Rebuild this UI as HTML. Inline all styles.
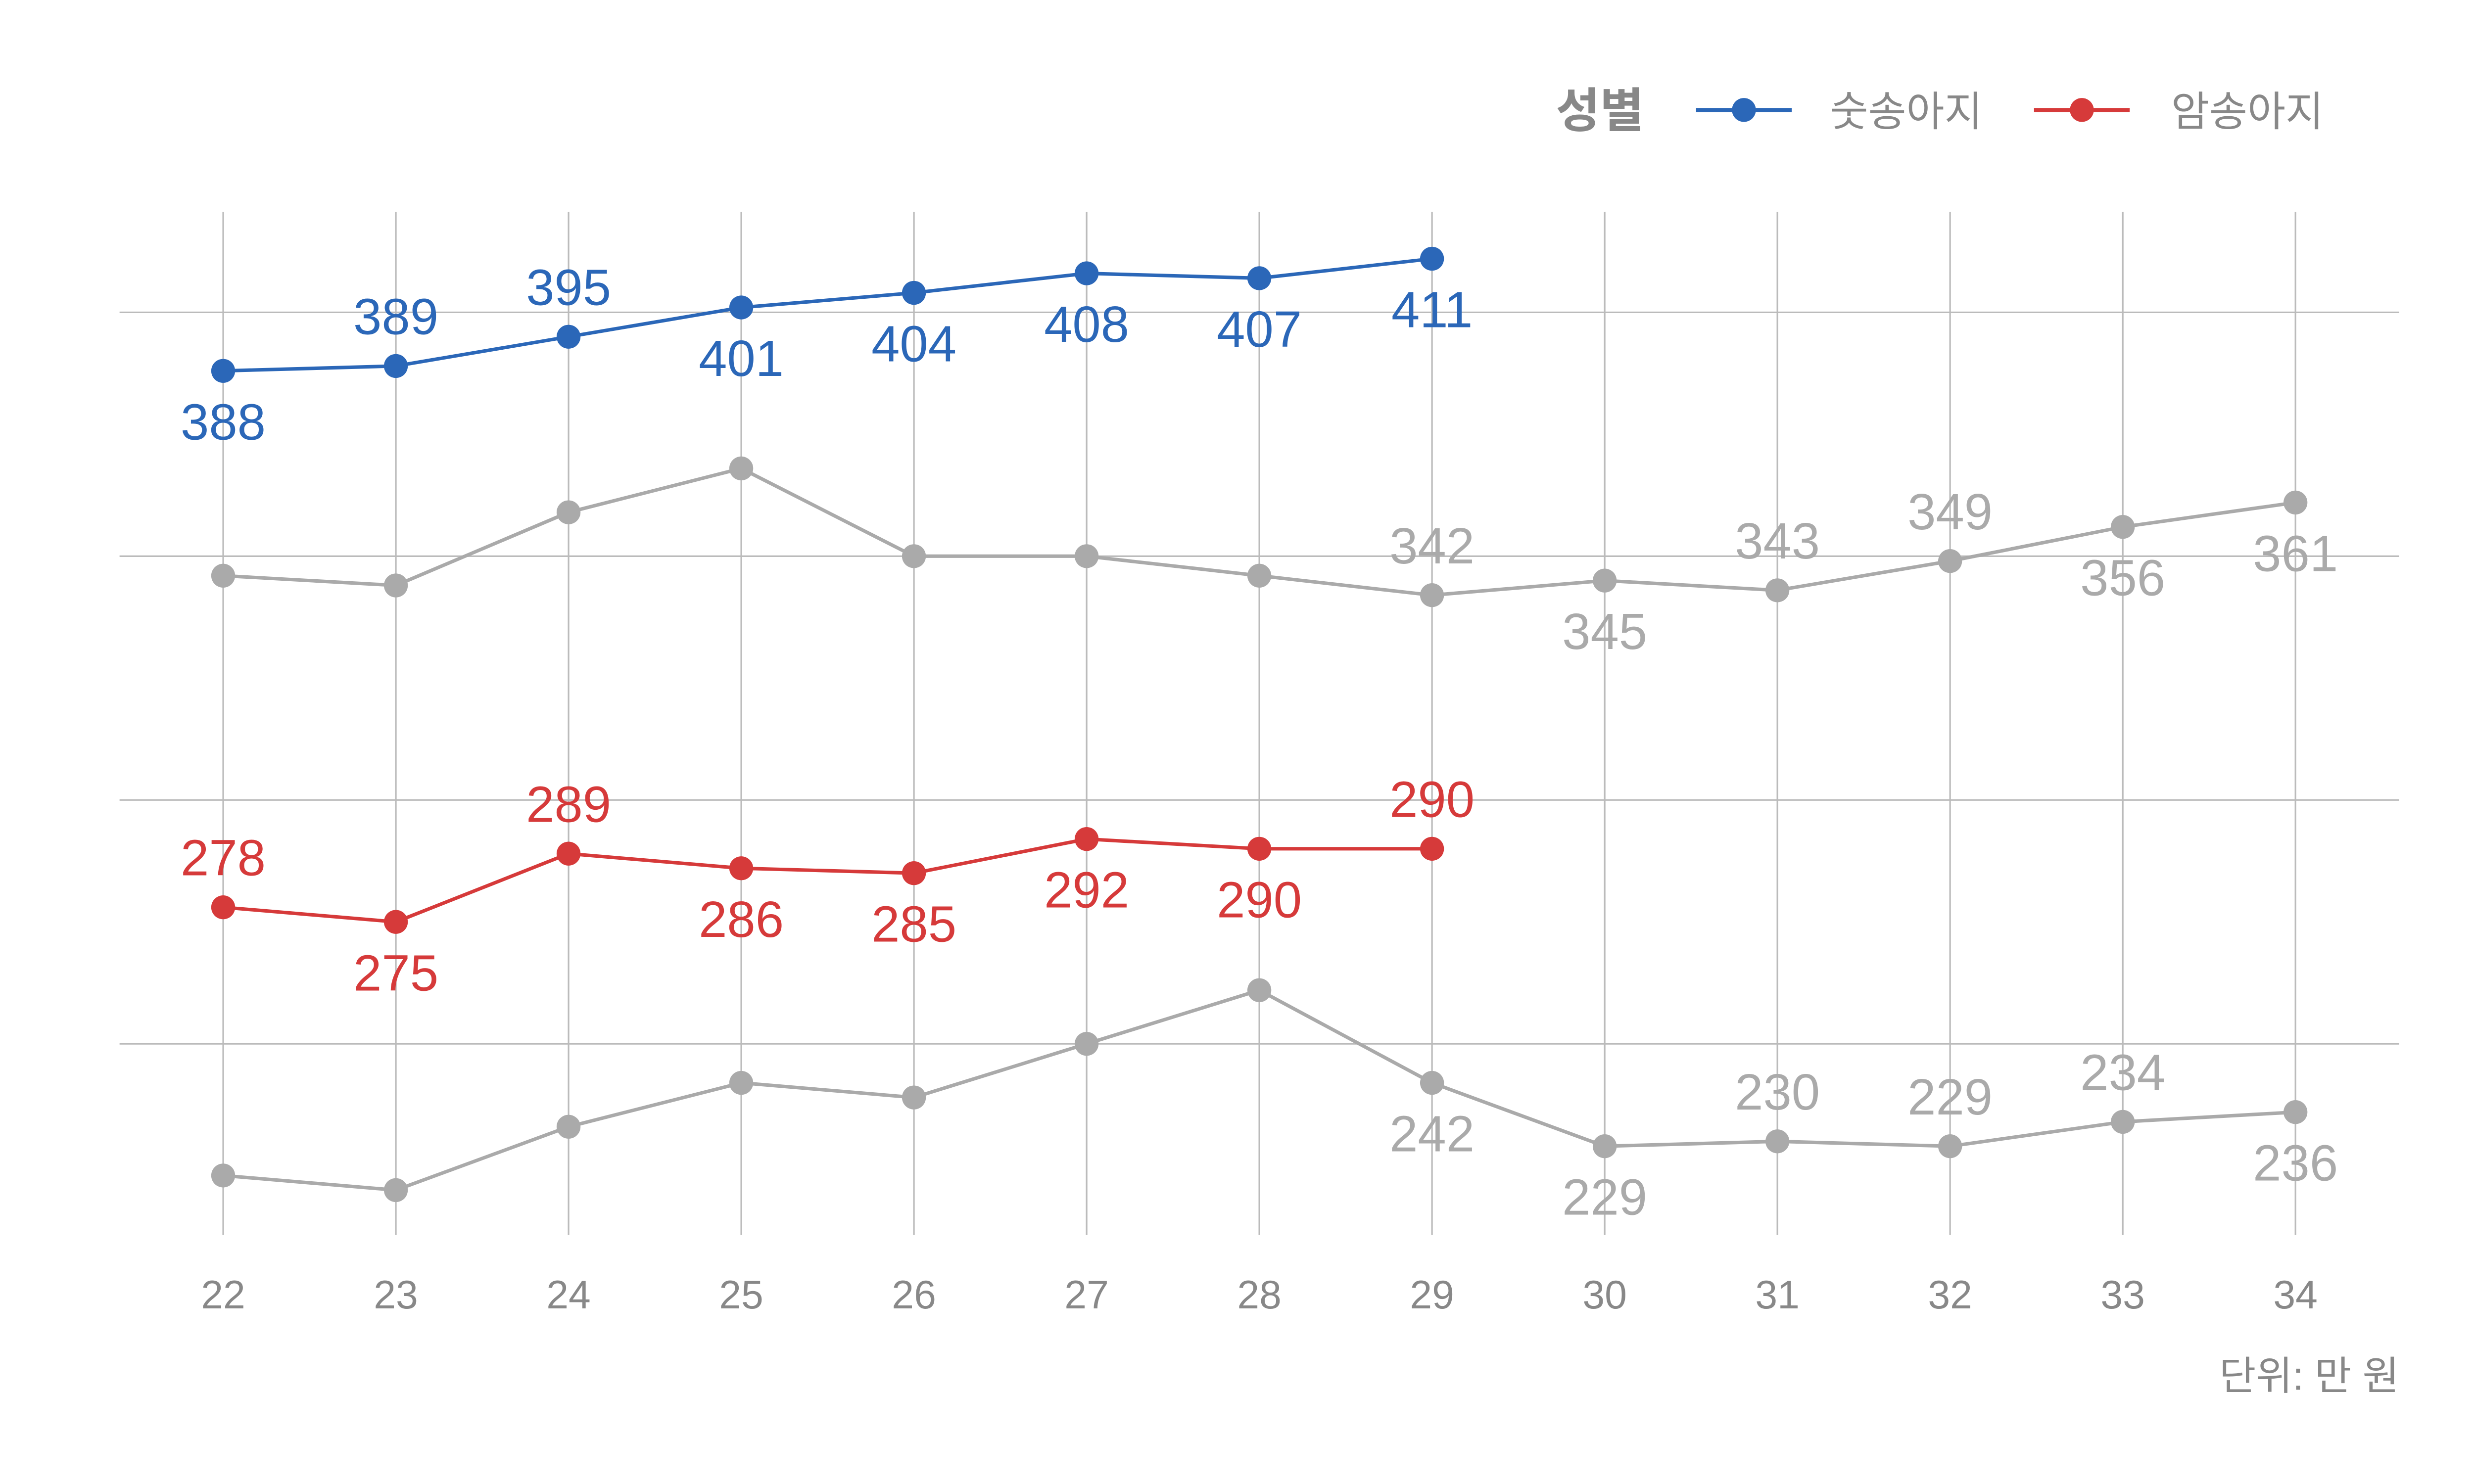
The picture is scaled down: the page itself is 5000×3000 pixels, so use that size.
<!DOCTYPE html>
<html><head><meta charset="utf-8"><style>
html,body{margin:0;padding:0;background:#fff;width:5000px;height:3000px;overflow:hidden}
svg{display:block}
text{font-family:"Liberation Sans","Noto Sans CJK KR",sans-serif}
</style></head><body>
<svg id="chart" width="5000" height="3000" viewBox="0 0 1552 931.2" preserveAspectRatio="none" xmlns="http://www.w3.org/2000/svg">
<g id="grid"></g>
<g id="series"></g>
<g id="legend">
  <text x="976" y="80" font-size="30" fill="#888" font-weight="bold">성별</text>
  <line x1="1064" y1="69" x2="1124" y2="69" stroke="#2b67b8" stroke-width="2.5"/>
  <circle cx="1094" cy="69" r="7.5" fill="#2b67b8"/>
  <text x="1148" y="79" font-size="26" fill="#888">숫송아지</text>
  <line x1="1276" y1="69" x2="1336" y2="69" stroke="#d63a3a" stroke-width="2.5"/>
  <circle cx="1306" cy="69" r="7.5" fill="#d63a3a"/>
  <text x="1362" y="79" font-size="26" fill="#888">암송아지</text>
</g>
<text x="1505" y="872" font-size="25" fill="#888" text-anchor="end">단위: 만 원</text>
</svg>
<script>
const months = [22,23,24,25,26,27,28,29,30,31,32,33,34];
const yTicks = [250,300,350,400];
const maleValues = [388,389,395,401,404,408,407,411];
const maleAbove = [0,1,1,0,0,0,0,0];
const femaleValues = [278,275,289,286,285,292,290,290];
const femaleAbove = [1,0,1,0,0,0,0,1];
const grayMaleValues = [346,344,359,368,350,350,346,342,345,343,349,356,361];
const grayMaleLabeled = [0,0,0,0,0,0,0,1,1,1,1,1,1];
const grayMaleAbove = [0,0,0,0,0,0,0,1,0,1,1,0,0];
const grayFemaleValues = [223,220,233,242,239,250,261,242,229,230,229,234,236];
const grayFemaleLabeled = [0,0,0,0,0,0,0,1,1,1,1,1,1];
const grayFemaleAbove = [0,0,0,0,0,0,0,0,0,1,1,1,0];

const NS = "http://www.w3.org/2000/svg";
const x = m => 140 + (m - 22) * (1300 / 12);
const y = v => 349 - (v - 350) * (153 / 50);
function mk(tag, attrs, parent){const e=document.createElementNS(NS,tag);for(const k in attrs)e.setAttribute(k,attrs[k]);parent.appendChild(e);return e;}

const grid = document.getElementById('grid');
yTicks.forEach(t=>{
  const l = mk('line',{x1:75,x2:1505,y1:y(t),y2:y(t),stroke:'#bbb','stroke-width':1},grid);
  
  
});
months.forEach(m=>{
  const l = mk('line',{x1:x(m),x2:x(m),y1:133,y2:775,stroke:'#bbb','stroke-width':1},grid);
  
  
  const t = mk('text',{x:x(m),y:821,'font-size':25,fill:'#888','text-anchor':'middle'},grid);
  
  
  t.textContent = m;
});

const series = document.getElementById('series');
function draw(vals, color, labeled, above, name){
  const g = mk('g',{},series);
  
  
  const pts = vals.map((v,i)=>x(months[i])+','+y(v)).join(' ');
  const pl = mk('polyline',{points:pts,fill:'none',stroke:color,'stroke-width':2.2},g);
  
  
  vals.forEach((v,i)=>{
    const c = mk('circle',{cx:x(months[i]),cy:y(v),r:7.5,fill:color},g);
    
    
    if(labeled[i]){
      const ty = y(v) + (above[i] ? -31 : 32) + 11;
      const t = mk('text',{x:x(months[i]),y:ty,'font-size':32,fill:color,'text-anchor':'middle'},g);
      
      
      t.textContent = v;
    }
  });
}
draw(grayMaleValues,'#aaaaaa',grayMaleLabeled,grayMaleAbove,'gray-male-series');
draw(grayFemaleValues,'#aaaaaa',grayFemaleLabeled,grayFemaleAbove,'gray-female-series');
draw(maleValues,'#2b67b8',maleValues.map(()=>1),maleAbove,'male-series');
draw(femaleValues,'#d63a3a',femaleValues.map(()=>1),femaleAbove,'female-series');
</script>
</body></html>
